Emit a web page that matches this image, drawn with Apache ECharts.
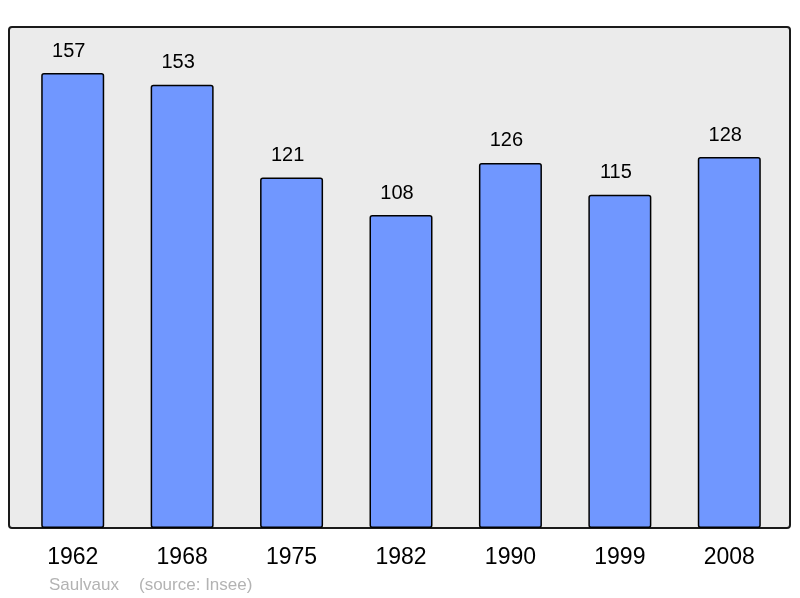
<!DOCTYPE html>
<html>
<head>
<meta charset="utf-8">
<script src="https://cdn.jsdelivr.net/npm/echarts@6/dist/echarts.min.js"></script>
<style>html,body{margin:0;padding:0;background:#fff}#c{width:800px;height:598px}</style>
</head>
<body>
<div id="c"></div>
<script>
var years = ['1962','1968','1975','1982','1990','1999','2008'];
var population = [157,153,121,108,126,115,128];
var placeName = 'Saulvaux';
var sourceText = '(source: Insee)';

var chart = echarts.init(document.getElementById('c'));
chart.setOption({
  animation: false,
  backgroundColor: '#ffffff',
  graphic: [
    {type:'rect', z:-10, shape:{x:9,y:27,width:781,height:501,r:3},
     style:{fill:'#ebebeb', stroke:'#1a1a1a', lineWidth:2}},
    {type:'text', left:49, top:577, style:{text:placeName, fill:'#b3b3b3', font:'17px "Liberation Sans", Arial, sans-serif'}},
    {type:'text', left:139, top:577, style:{text:sourceText, fill:'#b3b3b3', font:'17px "Liberation Sans", Arial, sans-serif'}}
  ],
  grid: {left:18, right:16, top:27, bottom:70},
  xAxis: {
    type:'category', data: years,
    axisLine:{show:false}, axisTick:{show:false},
    axisLabel:{fontSize:23, color:'#000', margin:18, fontFamily:'"Liberation Sans", Arial, sans-serif'}
  },
  yAxis: {type:'value', min:0, max:172.9, show:false, splitLine:{show:false}},
  series: [{
    type:'bar', data: population, barWidth:63,
    itemStyle:{color:'#7097ff', borderColor:'#000', borderWidth:1.5, borderRadius:2},
    label:{show:true, position:'top', distance:12, offset:[-4,0], fontSize:20, color:'#000', fontFamily:'"Liberation Sans", Arial, sans-serif'}
  }]
});
</script>
</body>
</html>
